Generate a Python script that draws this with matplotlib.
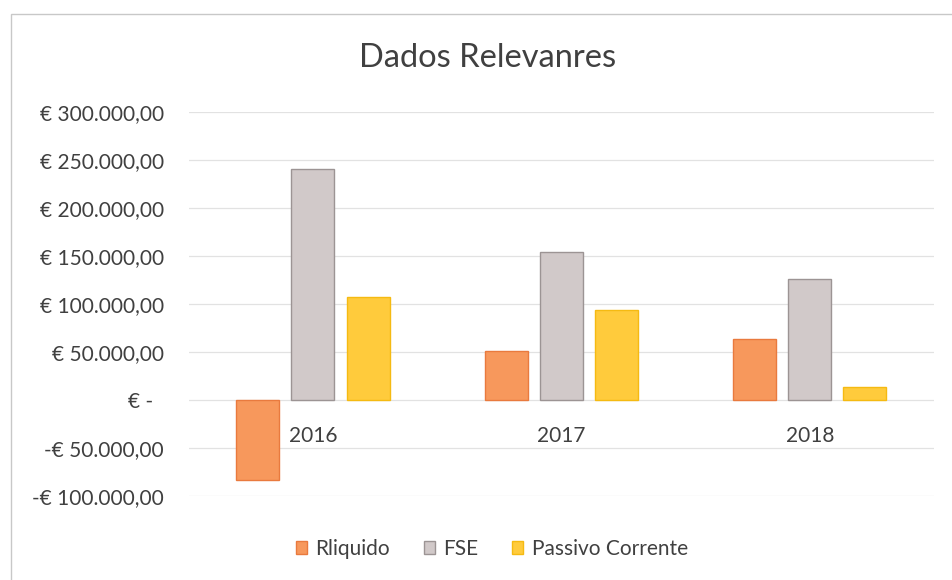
import matplotlib.pyplot as plt
import numpy as np
from matplotlib.ticker import FuncFormatter
from matplotlib.patches import Rectangle

years = ['2016', '2017', '2018']
rliquido = [-83000, 50500, 63000]
fse = [241000, 154500, 125500]
passivo_corrente = [107500, 93500, 13000]
series_names = ['Rliquido', 'FSE', 'Passivo Corrente']


def euro(v, pos):
    if v == 0:
        return '€ -  '
    s = '{:,.2f}'.format(abs(v)).replace(',', 'X').replace('.', ',').replace('X', '.')
    return ('-€ ' if v < 0 else '€ ') + s


plt.rcParams['font.family'] = ['Lato', 'DejaVu Sans']
txt = '#404040'

fig = plt.figure(figsize=(9.53, 5.8), dpi=100)
ax = fig.add_axes([0.198, 0.145, 0.782, 0.662])

x = np.arange(len(years))
w = 0.173
step = 0.222
ax.bar(x - step, rliquido, w, color='#F7985C', edgecolor='#E97A3E', linewidth=1, label=series_names[0], zorder=3)
ax.bar(x, fse, w, color='#D1C9C9', edgecolor='#9C9494', linewidth=1, label=series_names[1], zorder=3)
ax.bar(x + step, passivo_corrente, w, color='#FFCB3C', edgecolor='#F5BA12', linewidth=1, label=series_names[2], zorder=3)

ax.set_xlim(-0.5, 2.5)
ax.set_ylim(-100000, 300000)
ax.set_yticks(np.arange(-100000, 300001, 50000))
ax.yaxis.set_major_formatter(FuncFormatter(euro))
ax.grid(axis='y', color='#E2E2E2', linewidth=0.9, zorder=0)
for s in ax.spines.values():
    s.set_visible(False)
ax.tick_params(axis='y', length=0, pad=18, labelsize=15, labelcolor=txt)

ax.set_xticks([])
for i, yr in enumerate(years):
    ax.annotate(yr, (x[i], 0), xytext=(0, -19), textcoords='offset points',
                ha='center', va='top', fontsize=15, color=txt)

fig.text(0.512, 0.884, 'Dados Relevanres', fontsize=23.5, color=txt,
         ha='center', va='baseline')

leg = fig.legend(*ax.get_legend_handles_labels(), loc='center', bbox_to_anchor=(0.516, 0.054),
                 ncol=3, frameon=False, fontsize=15, handlelength=0.55, handleheight=0.55,
                 handletextpad=0.4, columnspacing=1.6, labelcolor=txt)

fig.patches.append(Rectangle((0.0115, -0.01), 1.0, 0.986, transform=fig.transFigure,
                             fill=False, edgecolor='#C8C8C8', linewidth=1))

fig.savefig('out.png', dpi=100)
